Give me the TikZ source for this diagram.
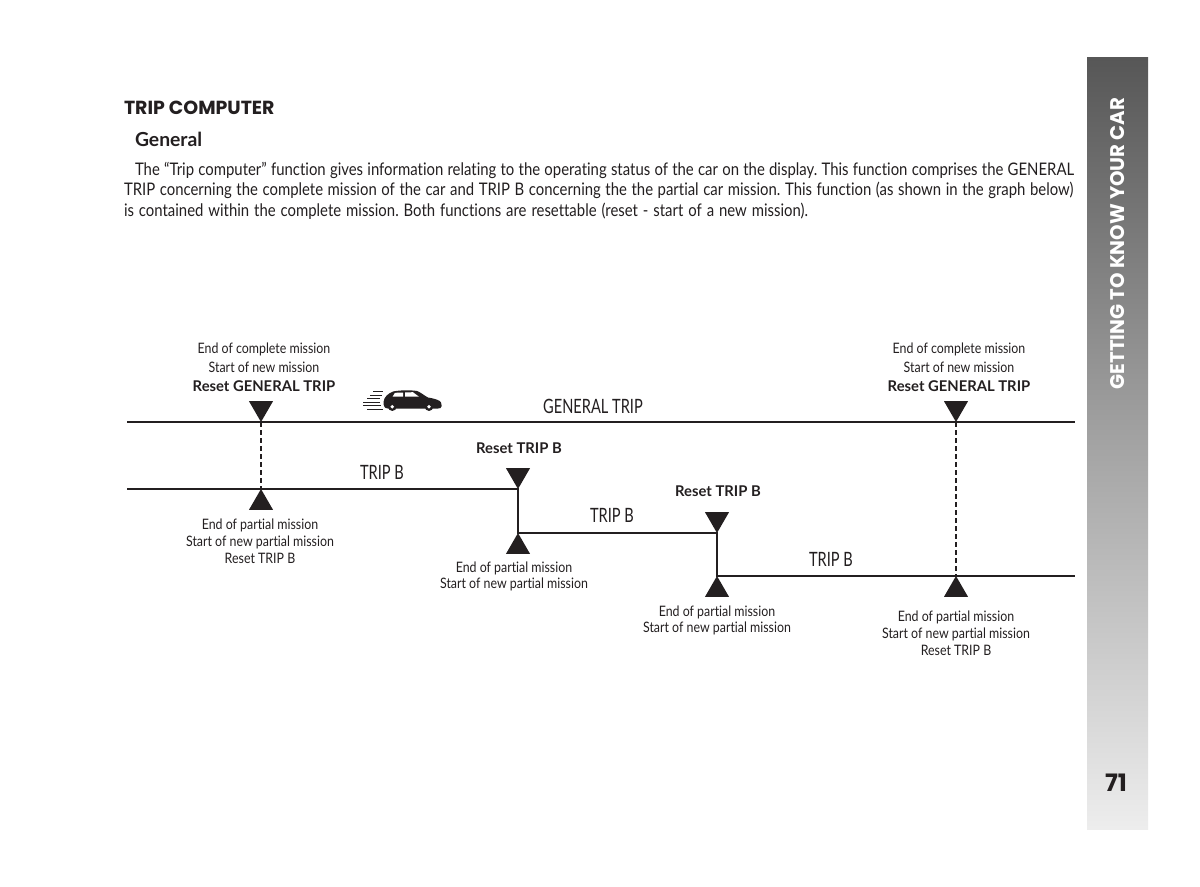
\documentclass[tikz,border=0pt]{standalone}
\usepackage{fontspec}
\usetikzlibrary{shapes.geometric}
\setmainfont[FakeStretch=0.86,Ligatures=NoCommon]{Lato}
\newfontfamily\widebold[Ligatures=NoCommon]{Lato}
\newfontfamily\narrowf[FakeStretch=0.74,Ligatures=NoCommon]{Lato}
\newfontfamily\heavy{Poppins}[BoldFont={Poppins Bold}]
\definecolor{ink}{HTML}{231F20}
\frenchspacing
\tikzset{
  x=0.75pt,y=-0.75pt,
  every node/.style={inner sep=0pt,outer sep=0pt,text=ink},
  lab/.style={font=\fontsize{10.8pt}{12pt}\selectfont,anchor=center},
  blab/.style={font=\widebold\bfseries\fontsize{11.1pt}{12pt}\selectfont,anchor=center},
  triplab/.style={font=\narrowf\fontsize{14.8pt}{16pt}\selectfont,anchor=center},
  body/.style={font=\fontsize{13pt}{15pt}\selectfont,anchor=west},
  trackline/.style={draw=ink,line width=1.35pt},
  linkline/.style={draw=ink,line width=1.5pt,dash pattern=on 3.4pt off 2.6pt},
  tridown/.style={regular polygon,regular polygon sides=3,minimum size=20.8pt,fill=ink,shape border rotate=180,anchor=corner 1},
  triup/.style={regular polygon,regular polygon sides=3,minimum size=20.8pt,fill=ink,anchor=corner 1},
}
\newcommand{\justline}[4]{\node[body] (#1) at (#2) {\hbox to #3{#4}};}
\begin{document}
\begin{tikzpicture}
\useasboundingbox (0,0) rectangle (1200,886);
\fill[white] (0,0) rectangle (1200,886);
% side tab
\node[minimum width=45.75pt,minimum height=579pt,anchor=north west,top color=black!66,bottom color=black!7,middle color=black!36] (tab) at (1087,57) {};
\node[rotate=90,text=white,font=\heavy\bfseries\fontsize{14.8pt}{16pt}\selectfont] (tabtext) at (1117.5,243.5) {GETTING TO KNOW YOUR CAR};
\node[font=\heavy\bfseries\fontsize{18pt}{20pt}\selectfont] (page) at (1116,783) {71};
% text
\node[anchor=west,font=\heavy\bfseries\fontsize{14.2pt}{16pt}\selectfont] (title) at (124,108) {TRIP COMPUTER};
\node[anchor=west,font=\widebold\bfseries\fontsize{14.5pt}{16pt}\selectfont] (general) at (135,139) {General};
\justline{b1}{135,170}{704.25pt}{The “Trip computer” function gives information relating to the operating status of the car on the display. This function comprises the GENERAL}
\justline{b2}{124,190}{712pt}{TRIP concerning the complete mission of the car and TRIP B concerning the the partial car mission. This function (as shown in the graph below)}
\justline{b3}{124,211}{513pt}{is contained within the complete mission. Both functions are resettable (reset - start of a new mission).}
% track coordinates
\coordinate (g0) at (127,422);
\coordinate (g1) at (1075,422);
\coordinate (a0) at (127,489);
\coordinate (a1) at (518,489);
\coordinate (a2) at (518,533);
\coordinate (a3) at (717,533);
\coordinate (a4) at (717,576);
\coordinate (a5) at (1075,576);
\coordinate (gL) at (261,422);
\coordinate (gR) at (956,422);
\coordinate (bL) at (261,489);
\coordinate (bR) at (956,576);
\draw[trackline] (g0) -- (g1);
\draw[trackline] (a0) -- (a1) -- (a2) -- (a3) -- (a4) -- (a5);
\draw[linkline] (gL) -- (bL);
\draw[linkline] (gR) -- (bR);
% triangles
\node[tridown] (d1) at (gL) {};
\node[tridown] (d2) at (gR) {};
\node[tridown] (d3) at (a1) {};
\node[tridown] (d4) at (a3) {};
\node[triup] (u1) at (bL) {};
\node[triup] (u2) at (a2) {};
\node[triup] (u3) at (a4) {};
\node[triup] (u4) at (bR) {};
% labels
\node[lab] (l1) at (264,349) {End of complete mission};
\node[lab] (l2) at (264,367) {Start of new mission};
\node[blab] (l3) at (264,386) {Reset GENERAL TRIP};
\node[lab] (r1) at (959,349) {End of complete mission};
\node[lab] (r2) at (959,367) {Start of new mission};
\node[blab] (r3) at (959,386) {Reset GENERAL TRIP};
\node[triplab] (t0) at (593,406) {GENERAL TRIP};
\node[triplab] (t1) at (382,472) {TRIP B};
\node[triplab] (t2) at (612,515) {TRIP B};
\node[triplab] (t3) at (831,559) {TRIP B};
\node[blab] (m1) at (519,448) {Reset TRIP B};
\node[blab] (m2) at (718,491) {Reset TRIP B};
\node[lab] (e1) at (260,525) {End of partial mission};
\node[lab] (e2) at (260,542) {Start of new partial mission};
\node[lab] (e3) at (260,558) {Reset TRIP B};
\node[lab] (f1) at (514,568) {End of partial mission};
\node[lab] (f2) at (514,584) {Start of new partial mission};
\node[lab] (h1) at (717,612) {End of partial mission};
\node[lab] (h2) at (717,628) {Start of new partial mission};
\node[lab] (k1) at (956,617) {End of partial mission};
\node[lab] (k2) at (956,634) {Start of new partial mission};
\node[lab] (k3) at (956,650) {Reset TRIP B};
% car
\fill[ink] (383.5,402) .. controls (384,397) and (388,393.5) .. (393,391.5)
  .. controls (400,390) and (411,390) .. (417,391)
  .. controls (421,392.5) and (425,396) .. (428,397.5)
  .. controls (434,398.5) and (440,400) .. (441,402.5)
  -- (441.7,406) .. controls (441.5,408) and (440,408.5) .. (438,408.5)
  -- (388,408.5) .. controls (384.5,408.5) and (383.5,406) .. (383.5,402) -- cycle;
\fill[white] (392.5,396.7) -- (395,392.8) -- (403,392.5) -- (403,396.7) -- cycle;
\fill[white] (405,392.4) -- (413,392.2) -- (419,396.7) -- (405,396.7) -- cycle;
\foreach \cx in {392.3,429}{
  \fill[ink] (\cx,406.7) circle[radius=3.2pt];
  \fill[white] (\cx,406.7) circle[radius=1.4pt];
}
\draw[ink,line width=0.5pt] (373,391.5) -- (383,391.5);
\draw[ink,line width=0.5pt] (370,395) -- (382,395);
\draw[ink,line width=0.5pt] (367,398.5) -- (380,398.5);
\draw[ink,line width=0.5pt] (363,402) -- (380,402);
\draw[ink,line width=0.5pt] (363,405.5) -- (381,405.5);
\draw[ink,line width=0.5pt] (367,409) -- (383,409);
\end{tikzpicture}
\end{document}
